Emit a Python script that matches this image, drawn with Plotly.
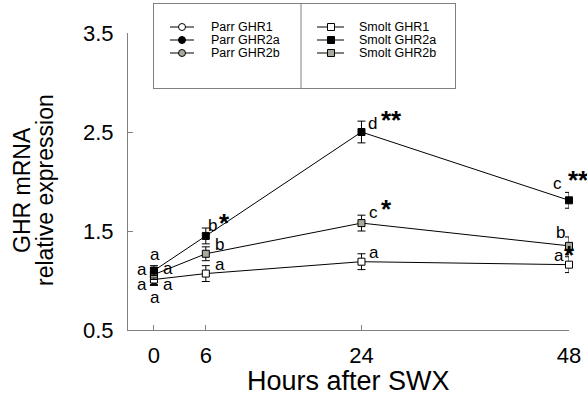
import plotly.graph_objects as go

# ---------------- data ----------------
hours = [0, 6, 24, 48]
smolt_ghr1 = [1.01, 1.07, 1.19, 1.16]
smolt_ghr1_err = [0.05, 0.08, 0.08, 0.08]
smolt_ghr2a = [1.10, 1.45, 2.50, 1.81]
smolt_ghr2a_err = [0.05, 0.08, 0.11, 0.08]
smolt_ghr2b = [1.06, 1.27, 1.58, 1.35]
smolt_ghr2b_err = [0.05, 0.07, 0.08, 0.09]

parr_hours = [0]
parr_ghr1 = [1.00]
parr_ghr1_err = [0.05]
parr_ghr2a = [1.08]
parr_ghr2a_err = [0.05]
parr_ghr2b = [1.04]
parr_ghr2b_err = [0.05]

# significance letters / stars per time point
smolt_ghr1_letters = ["a", "a", "a", "a"]
smolt_ghr1_stars = ["", "", "", "*"]
smolt_ghr2a_letters = ["a", "b", "d", "c"]
smolt_ghr2a_stars = ["", "*", "**", "**"]
smolt_ghr2b_letters = ["a", "b", "c", "b"]
smolt_ghr2b_stars = ["", "", "*", ""]
parr_ghr1_letters = ["a"]
parr_ghr2a_letters = ["a"]
parr_ghr2b_letters = ["a"]

x_ticks = [0, 6, 24, 48]
y_ticks = [0.5, 1.5, 2.5, 3.5]
x_title = "Hours after SWX"
y_title_lines = ["GHR mRNA", "relative expression"]

# ---------------- style ----------------
FONT = "Liberation Sans, Arial, sans-serif"
AX = "#808080"
GRAY_FILL = "#a8a89c"
W, H = 587, 402
ML, MR, MT, MB = 128, 18, 0, 72
PW, PH = W - ML - MR, H - MT - MB
Y_TOP_PX = 33  # pixel of y=3.5

fig = go.Figure()


def add_series(xs, ys, es, symbol, fill, name, lines=True):
    fig.add_trace(go.Scatter(
        x=xs, y=ys, name=name, showlegend=False,
        mode="lines+markers" if lines else "markers",
        line=dict(color="black", width=1),
        marker=dict(symbol=symbol, size=7, color=fill, line=dict(color="black", width=1)),
        error_y=dict(type="data", array=es, visible=True, color="black", thickness=1, width=4),
        cliponaxis=False,
    ))


add_series(parr_hours, parr_ghr1, parr_ghr1_err, "circle", "white", "Parr GHR1", False)
add_series(parr_hours, parr_ghr2a, parr_ghr2a_err, "circle", "black", "Parr GHR2a", False)
add_series(parr_hours, parr_ghr2b, parr_ghr2b_err, "circle", GRAY_FILL, "Parr GHR2b", False)
add_series(hours, smolt_ghr1, smolt_ghr1_err, "square", "white", "Smolt GHR1")
add_series(hours, smolt_ghr2b, smolt_ghr2b_err, "square", GRAY_FILL, "Smolt GHR2b")
add_series(hours, smolt_ghr2a, smolt_ghr2a_err, "square", "black", "Smolt GHR2a")

# label offsets (pixels, relative to data point): letter (dx, dy), star (dx, dy)
LETTER_SIZE = 17
STAR_SIZE = 26
STAR_DROP = 3

smolt_sets = [
    (smolt_ghr2a, smolt_ghr2a_letters, smolt_ghr2a_stars,
     [(1, 15.6), (7, 10), (11, 9), (-12, 17)],
     [None, (19, 16), (30, 15), (9, 23)]),
    (smolt_ghr2b, smolt_ghr2b_letters, smolt_ghr2b_stars,
     [(14, 5.6), (14, 9), (12, 11), (-9, 13)],
     [None, None, (25, 17), None]),
    (smolt_ghr1, smolt_ghr1_letters, smolt_ghr1_stars,
     [(14, -4.5), (14, 9), (13, 9), (-10, 9)],
     [None, None, None, (0, 13)]),
]
annotations = []
for vals, lets, stars, loff, soff in smolt_sets:
    for i, h in enumerate(hours):
        dx, dy = loff[i]
        annotations.append(dict(x=h, y=vals[i], xref="x", yref="y", text=lets[i], showarrow=False,
                                xshift=dx, yshift=dy, xanchor="center", yanchor="middle",
                                font=dict(family=FONT, size=LETTER_SIZE, color="black")))
        if stars[i] and soff[i]:
            sx, sy = soff[i]
            annotations.append(dict(x=h, y=vals[i], xref="x", yref="y", text="<b>" + stars[i] + "</b>",
                                    showarrow=False, xshift=sx, yshift=sy - STAR_DROP,
                                    xanchor="center", yanchor="middle",
                                    font=dict(family=FONT, size=STAR_SIZE, color="black")))

parr_sets = [(parr_ghr2a, parr_ghr2a_letters, (-12, 2.7)),
             (parr_ghr2b, parr_ghr2b_letters, (-12, -7.5)),
             (parr_ghr1, parr_ghr1_letters, (1, -16.5))]
for vals, lets, (dx, dy) in parr_sets:
    annotations.append(dict(x=parr_hours[0], y=vals[0], xref="x", yref="y", text=lets[0], showarrow=False,
                            xshift=dx, yshift=dy, xanchor="center", yanchor="middle",
                            font=dict(family=FONT, size=LETTER_SIZE, color="black")))

# ---------------- legend (drawn on an overlay pixel-scaled axis) ----------------
LX0, LX1, LY0, LY1 = 154, 455, 4, 88
DIV_X = 301
rows = [27, 40, 53]
legend_items = [
    ("Parr GHR1", "circle", "white", 0, 0), ("Parr GHR2a", "circle", "black", 0, 1),
    ("Parr GHR2b", "circle", GRAY_FILL, 0, 2), ("Smolt GHR1", "square", "white", 1, 0),
    ("Smolt GHR2a", "square", "black", 1, 1), ("Smolt GHR2b", "square", GRAY_FILL, 1, 2),
]
cols = [dict(l0=170, l1=194, m=182, t=209), dict(l0=317, l1=344, m=331, t=357)]
for name, sym, fill, c, r in legend_items:
    cc = cols[c]
    fig.add_trace(go.Scatter(x=[cc["l0"], cc["l1"]], y=[rows[r], rows[r]], mode="lines",
                             line=dict(color="black", width=1), xaxis="x2", yaxis="y2",
                             showlegend=False, hoverinfo="skip"))
    fig.add_trace(go.Scatter(x=[cc["m"]], y=[rows[r]], mode="markers",
                             marker=dict(symbol=sym, size=7, color=fill, line=dict(color="black", width=1)),
                             xaxis="x2", yaxis="y2", showlegend=False, hoverinfo="skip"))
    annotations.append(dict(x=cc["t"], y=rows[r], xref="x2", yref="y2", text=name, showarrow=False,
                            xanchor="left", yanchor="middle",
                            font=dict(family=FONT, size=12.5, color="black")))

# axis titles
annotations.append(dict(x=(348.5 - ML) / PW, y=(PH - 381) / PH, xref="paper", yref="paper",
                        text=x_title, showarrow=False, xanchor="center", yanchor="middle",
                        font=dict(family=FONT, size=27, color="black")))
for txt, px in zip(y_title_lines, [22, 45]):
    annotations.append(dict(x=(px - ML) / PW, y=(PH - 190) / PH, xref="paper", yref="paper",
                            text=txt, showarrow=False, textangle=-90, xanchor="center", yanchor="middle",
                            font=dict(family=FONT, size=23, color="black")))

common_ax = dict(automargin=False, showgrid=False, zeroline=False)
fig.update_layout(
    template="none",
    width=W, height=H, margin=dict(l=ML, r=MR, t=MT, b=MB, pad=0, autoexpand=False),
    paper_bgcolor="white", plot_bgcolor="white", showlegend=False,
    font=dict(family=FONT, color="black"),
    xaxis=dict(range=[-3, 48], tickvals=x_ticks, ticktext=[str(v) for v in x_ticks],
               showline=True, linecolor=AX, linewidth=1, ticks="inside", ticklen=5, tickcolor=AX,
               tickfont=dict(family=FONT, size=22, color="black"),
               ticklabelstandoff=6, anchor="y", **common_ax),
    yaxis=dict(range=[0.5, 3.5], domain=[0, (PH - Y_TOP_PX) / PH], tickvals=y_ticks,
               ticktext=[f"{v:.1f}" for v in y_ticks],
               showline=True, linecolor=AX, linewidth=1, ticks="inside", ticklen=5, tickcolor=AX,
               tickfont=dict(family=FONT, size=22, color="black"),
               ticklabelstandoff=9, anchor="x", **common_ax),
    xaxis2=dict(domain=[(LX0 - ML) / PW, (LX1 - ML) / PW], range=[LX0, LX1], anchor="y2",
                showline=True, mirror=True, linecolor=AX, linewidth=1, showticklabels=False,
                ticks="", fixedrange=True, **common_ax),
    yaxis2=dict(domain=[(PH - LY1) / PH, (PH - LY0) / PH], range=[LY1, LY0], anchor="x2",
                showline=True, mirror=True, linecolor=AX, linewidth=1, showticklabels=False,
                ticks="", fixedrange=True, **common_ax),
    shapes=[dict(type="line", xref="x2", yref="y2", x0=DIV_X, x1=DIV_X, y0=LY0, y1=LY1,
                 line=dict(color=AX, width=1))],
    annotations=annotations,
)

fig.write_html("out.html", config={"displayModeBar": False},
               post_script="document.body.style.margin='0px';document.body.style.overflow='hidden';")
